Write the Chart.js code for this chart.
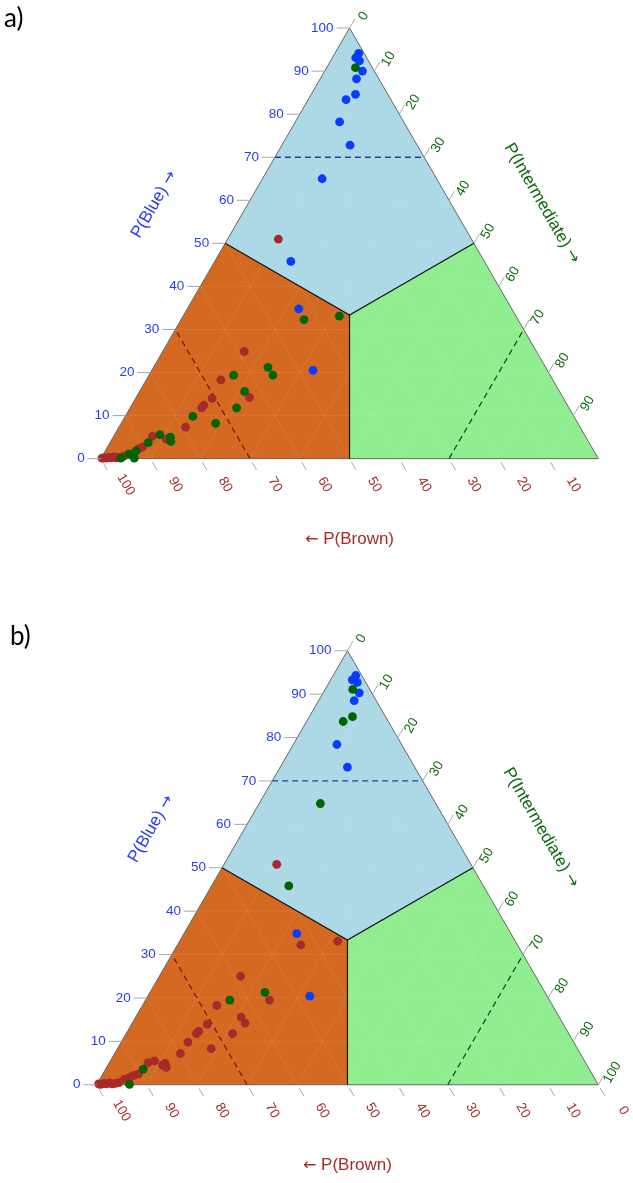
<!DOCTYPE html>
<html>
<head>
<meta charset="utf-8">
<script src="https://cdn.jsdelivr.net/npm/chart.js@4.4.1/dist/chart.umd.min.js"></script>
<style>
  body { margin: 0; background: #fff; width: 633px; height: 1183px; position: relative; overflow: hidden; }
  .panel { position: absolute; left: 0; }
  .tag { position: absolute; font-family: Lato, "Open Sans", sans-serif; font-size: 26px; line-height: 1; color: #000; }
</style>
</head>
<body>
<div class="panel" style="top:0"><canvas id="chartA" width="633" height="600"></canvas></div>
<div class="panel" style="top:600px"><canvas id="chartB" width="633" height="583"></canvas></div>
<div class="tag" style="left:4px;top:4px">a)</div>
<div class="tag" style="left:10px;top:622px">b)</div>

<script>
// ternary points are [P(Blue), P(Intermediate)] in %, P(Brown) is the rest

// --- panel a ---
const aBluePts = [[94.1, 4.8], [93.1, 4.7], [92.4, 5.8], [90.0, 7.6], [88.2, 7.3], [84.6, 8.9], [83.4, 7.6],
  [78.2, 8.9], [72.8, 13.7], [65.0, 12.0], [45.8, 15.3], [34.8, 22.4], [20.5, 32.4]];
const aInterPts = [[90.8, 5.8], [32.3, 24.7], [33.1, 31.4], [21.2, 23.0], [19.4, 24.9], [19.4, 17.0], [15.6, 21.1],
  [11.8, 21.4], [9.8, 13.6], [8.2, 19.0], [5.6, 9.1], [5.0, 11.5], [4.0, 12.1], [3.7, 7.7], [1.8, 6.2],
  [1.1, 5.1], [0.1, 6.7], [0.1, 4.0]];
const aBrownPts = [[51.0, 10.2], [24.9, 16.4], [18.3, 15.0], [14.2, 22.8], [14.0, 15.4], [12.4, 14.5], [11.8, 14.4],
  [7.3, 13.4], [5.2, 7.8], [4.5, 10.9], [2.7, 7.1], [2.3, 6.5], [0.6, 4.3], [0.3, 3.5], [0.2, 3.0],
  [0.4, 2.5], [0.2, 2.0], [0.3, 1.5], [0.1, 1.0], [0.2, 0.6], [0.1, 0.2]];

// --- panel b ---
const bBluePts = [[94.3, 4.5], [93.3, 4.3], [92.7, 5.6], [90.3, 7.2], [88.5, 7.1], [78.4, 8.7], [73.2, 13.4],
  [34.8, 22.5], [20.4, 32.3]];
const bInterPts = [[91.1, 5.5], [84.8, 8.6], [83.7, 7.3], [64.8, 12.2], [45.8, 15.4], [21.3, 22.9], [19.5, 16.8],
  [3.6, 7.5], [0.1, 6.5]];
const bBrownPts = [[50.8, 10.5], [32.2, 24.6], [33.1, 31.5], [25.0, 16.2], [19.5, 24.7], [18.3, 14.8], [15.6, 21.0],
  [14.2, 22.5], [13.9, 15.1], [12.3, 14.2], [11.8, 14.0], [11.8, 21.2], [9.8, 13.3], [8.3, 18.7], [7.2, 13.1],
  [5.5, 8.8], [5.1, 7.7], [4.9, 11.2], [4.5, 10.9], [4.0, 11.9], [2.5, 7.1], [2.1, 6.3], [1.7, 5.8], [1.3, 4.9],
  [0.5, 4.2], [0.3, 3.6], [0.2, 3.0], [0.4, 2.4], [0.2, 1.8], [0.3, 1.3], [0.1, 0.8], [0.2, 0.3]];

// tick labels
const blueTicks = [0, 10, 20, 30, 40, 50, 60, 70, 80, 90, 100];
const interTicksA = [0, 10, 20, 30, 40, 50, 60, 70, 80, 90];
const interTicksB = [0, 10, 20, 30, 40, 50, 60, 70, 80, 90, 100];
const brownTicksA = [100, 90, 80, 70, 60, 50, 40, 30, 20, 10];
const brownTicksB = [100, 90, 80, 70, 60, 50, 40, 30, 20, 10, 0];
const gridSteps = [10, 20, 30, 40, 50, 60, 70, 80, 90];
const cutoff = 70;

const SQ3 = Math.sqrt(3);
const C3 = 100 / 3;

// ternary (blue, inter) -> plane coords, triangle side = 100
function toXY(blue, inter) {
  return { x: inter + blue / 2, y: blue * SQ3 / 2 };
}

function lineSet(pairs, extra) {
  return Object.assign({
    type: 'line',
    data: pairs.map(p => p ? toXY(p[0], p[1]) : { x: NaN, y: NaN }),
    pointRadius: 0,
    pointHoverRadius: 0,
    borderWidth: 1,
    tension: 0,
    fill: false,
    spanGaps: false
  }, extra);
}

function pointSet(pairs, color, order) {
  return {
    type: 'scatter',
    data: pairs.map(p => toXY(p[0], p[1])),
    backgroundColor: color,
    borderWidth: 0,
    pointRadius: 4.4,
    pointHoverRadius: 4.4,
    order: order
  };
}

function buildDatasets(bluePts, interPts, brownPts) {
  const grid = [];
  gridSteps.forEach(v => {
    grid.push([v, 0], [v, 100 - v], null);
    grid.push([0, v], [100 - v, v], null);
    grid.push([0, 100 - v], [100 - v, 0], null);
  });
  return [
    pointSet(interPts, '#006400', 0),
    pointSet(bluePts, '#0a3cff', 1),
    pointSet(brownPts, '#a52a2a', 2),
    lineSet([[cutoff, 0], [cutoff, 100 - cutoff]], { borderColor: '#2a3a9a', borderWidth: 1.3, borderDash: [6, 4], order: 3 }),
    lineSet([[0, 100 - cutoff], [100 - cutoff, 0]], { borderColor: '#7a1a1a', borderWidth: 1.3, borderDash: [6, 4], order: 3 }),
    lineSet([[0, cutoff], [100 - cutoff, cutoff]], { borderColor: '#1f4a1f', borderWidth: 1.3, borderDash: [6, 4], order: 3 }),
    lineSet([[50, 0], [C3, C3], [50, 50], null, [C3, C3], [0, 50]], { borderColor: '#111', borderWidth: 1.2, order: 4 }),
    lineSet([[0, 0], [0, 100], [100, 0], [0, 0]], { borderColor: '#666', borderWidth: 1, order: 5 }),
    lineSet(grid, { borderColor: 'rgba(255,255,255,0.08)', borderWidth: 1, order: 6 }),
    lineSet([[100, 0], [50, 50], [C3, C3], [50, 0], [100, 0]], { borderWidth: 0, fill: 'shape', backgroundColor: '#add8e6', order: 7 }),
    lineSet([[0, 0], [50, 0], [C3, C3], [0, 50], [0, 0]], { borderWidth: 0, fill: 'shape', backgroundColor: '#d46a22', order: 7 }),
    lineSet([[0, 100], [0, 50], [C3, C3], [50, 50], [0, 100]], { borderWidth: 0, fill: 'shape', backgroundColor: '#90ee90', order: 7 })
  ];
}

const BLUE_TXT = '#2b3cf0';
const GREEN_TXT = '#0b6b0b';
const BROWN_TXT = '#a52a2a';
const TXT_FONT = '"Liberation Sans", Arial, sans-serif';
const ARROW_FONT = '"DejaVu Sans", sans-serif';

const ternaryAxes = {
  id: 'ternaryAxes',
  afterDatasetsDraw(chart, args, o) {
    const ctx = chart.ctx;
    const sx = chart.scales.x, sy = chart.scales.y;
    const P = (b, i) => {
      const p = toXY(b, i);
      return [sx.getPixelForValue(p.x), sy.getPixelForValue(p.y)];
    };
    const seg = (x1, y1, x2, y2) => { ctx.beginPath(); ctx.moveTo(x1, y1); ctx.lineTo(x2, y2); ctx.stroke(); };
    const rotText = (txt, x, y, ang) => {
      ctx.save(); ctx.translate(x, y); ctx.rotate(ang); ctx.fillText(txt, 0, 0); ctx.restore();
    };
    // title with a wider arrow glyph: parts = [[text, font], ...], centred at x,y
    const rotTitle = (parts, x, y, ang) => {
      ctx.save();
      ctx.translate(x, y);
      ctx.rotate(ang);
      ctx.textAlign = 'left';
      let total = 0;
      parts.forEach(p => { ctx.font = p[1]; total += ctx.measureText(p[0]).width; });
      let cx = -total / 2;
      parts.forEach(p => { ctx.font = p[1]; ctx.fillText(p[0], cx, 0); cx += ctx.measureText(p[0]).width; });
      ctx.restore();
    };

    ctx.save();
    ctx.strokeStyle = '#a8a8a8';
    ctx.lineWidth = 1;
    ctx.font = '13.5px ' + TXT_FONT;
    ctx.textBaseline = 'middle';

    // P(Blue) on the left edge
    ctx.fillStyle = BLUE_TXT;
    ctx.textAlign = 'right';
    blueTicks.forEach(v => {
      const [px, py] = P(v, 0);
      seg(px, py, px - 13, py);
      ctx.fillText(String(v), px - 16, py);
    });

    // P(Intermediate) on the right edge
    ctx.fillStyle = GREEN_TXT;
    ctx.textAlign = 'center';
    o.interTicks.forEach(v => {
      const [px, py] = P(100 - v, v);
      seg(px, py, px + 5.5, py - 9.5);
      rotText(String(v), px + 14, py - 12, -Math.PI / 3);
    });

    // P(Brown) on the bottom edge
    ctx.fillStyle = BROWN_TXT;
    o.brownTicks.forEach(v => {
      const [px, py] = P(0, 100 - v);
      seg(px + 2, py + 3.5, px + 6.5, py + 11.3);
      rotText(String(v), px + 25, py + 26, Math.PI / 3);
    });

    // axis titles
    const tf = '17px ' + TXT_FONT, af = '16px ' + ARROW_FONT;
    let [tx, ty] = P(50, 0);
    ctx.fillStyle = BLUE_TXT;
    rotTitle([['P(Blue) ', tf], ['\u2192', af]], tx - 71, ty - 39, -Math.PI / 3);
    [tx, ty] = P(50, 50);
    ctx.fillStyle = GREEN_TXT;
    rotTitle([['P(Intermediate) ', tf], ['\u2192', af]], tx + 68, ty - 40, Math.PI / 3);
    [tx, ty] = P(0, 50);
    ctx.fillStyle = BROWN_TXT;
    rotTitle([['\u2190', af], [' P(Brown)', tf]], tx, ty + 81, 0);
    ctx.restore();
  }
};

// left vertex / baseline in canvas px and triangle side in px
function makeChart(id, frame, bluePts, interPts, brownPts, interTicks, brownTicks) {
  const canvas = document.getElementById(id);
  const W = canvas.width, H = canvas.height;
  const u = frame.side / 100;
  return new Chart(canvas.getContext('2d'), {
    type: 'scatter',
    data: { datasets: buildDatasets(bluePts, interPts, brownPts) },
    options: {
      responsive: false,
      animation: false,
      events: [],
      layout: { padding: 0 },
      plugins: {
        legend: { display: false },
        tooltip: { enabled: false },
        ternaryAxes: { interTicks, brownTicks }
      },
      scales: {
        x: { type: 'linear', display: false, min: -frame.left / u, max: (W - frame.left) / u },
        y: { type: 'linear', display: false, min: -(H - frame.base) / u, max: frame.base / u }
      }
    },
    plugins: [ternaryAxes]
  });
}

makeChart('chartA', { left: 97.7, base: 461, side: 504.6 }, aBluePts, aInterPts, aBrownPts, interTicksA, brownTicksA);
makeChart('chartB', { left: 93.5, base: 487.7, side: 508.8 }, bBluePts, bInterPts, bBrownPts, interTicksB, brownTicksB);
</script>
</body>
</html>
